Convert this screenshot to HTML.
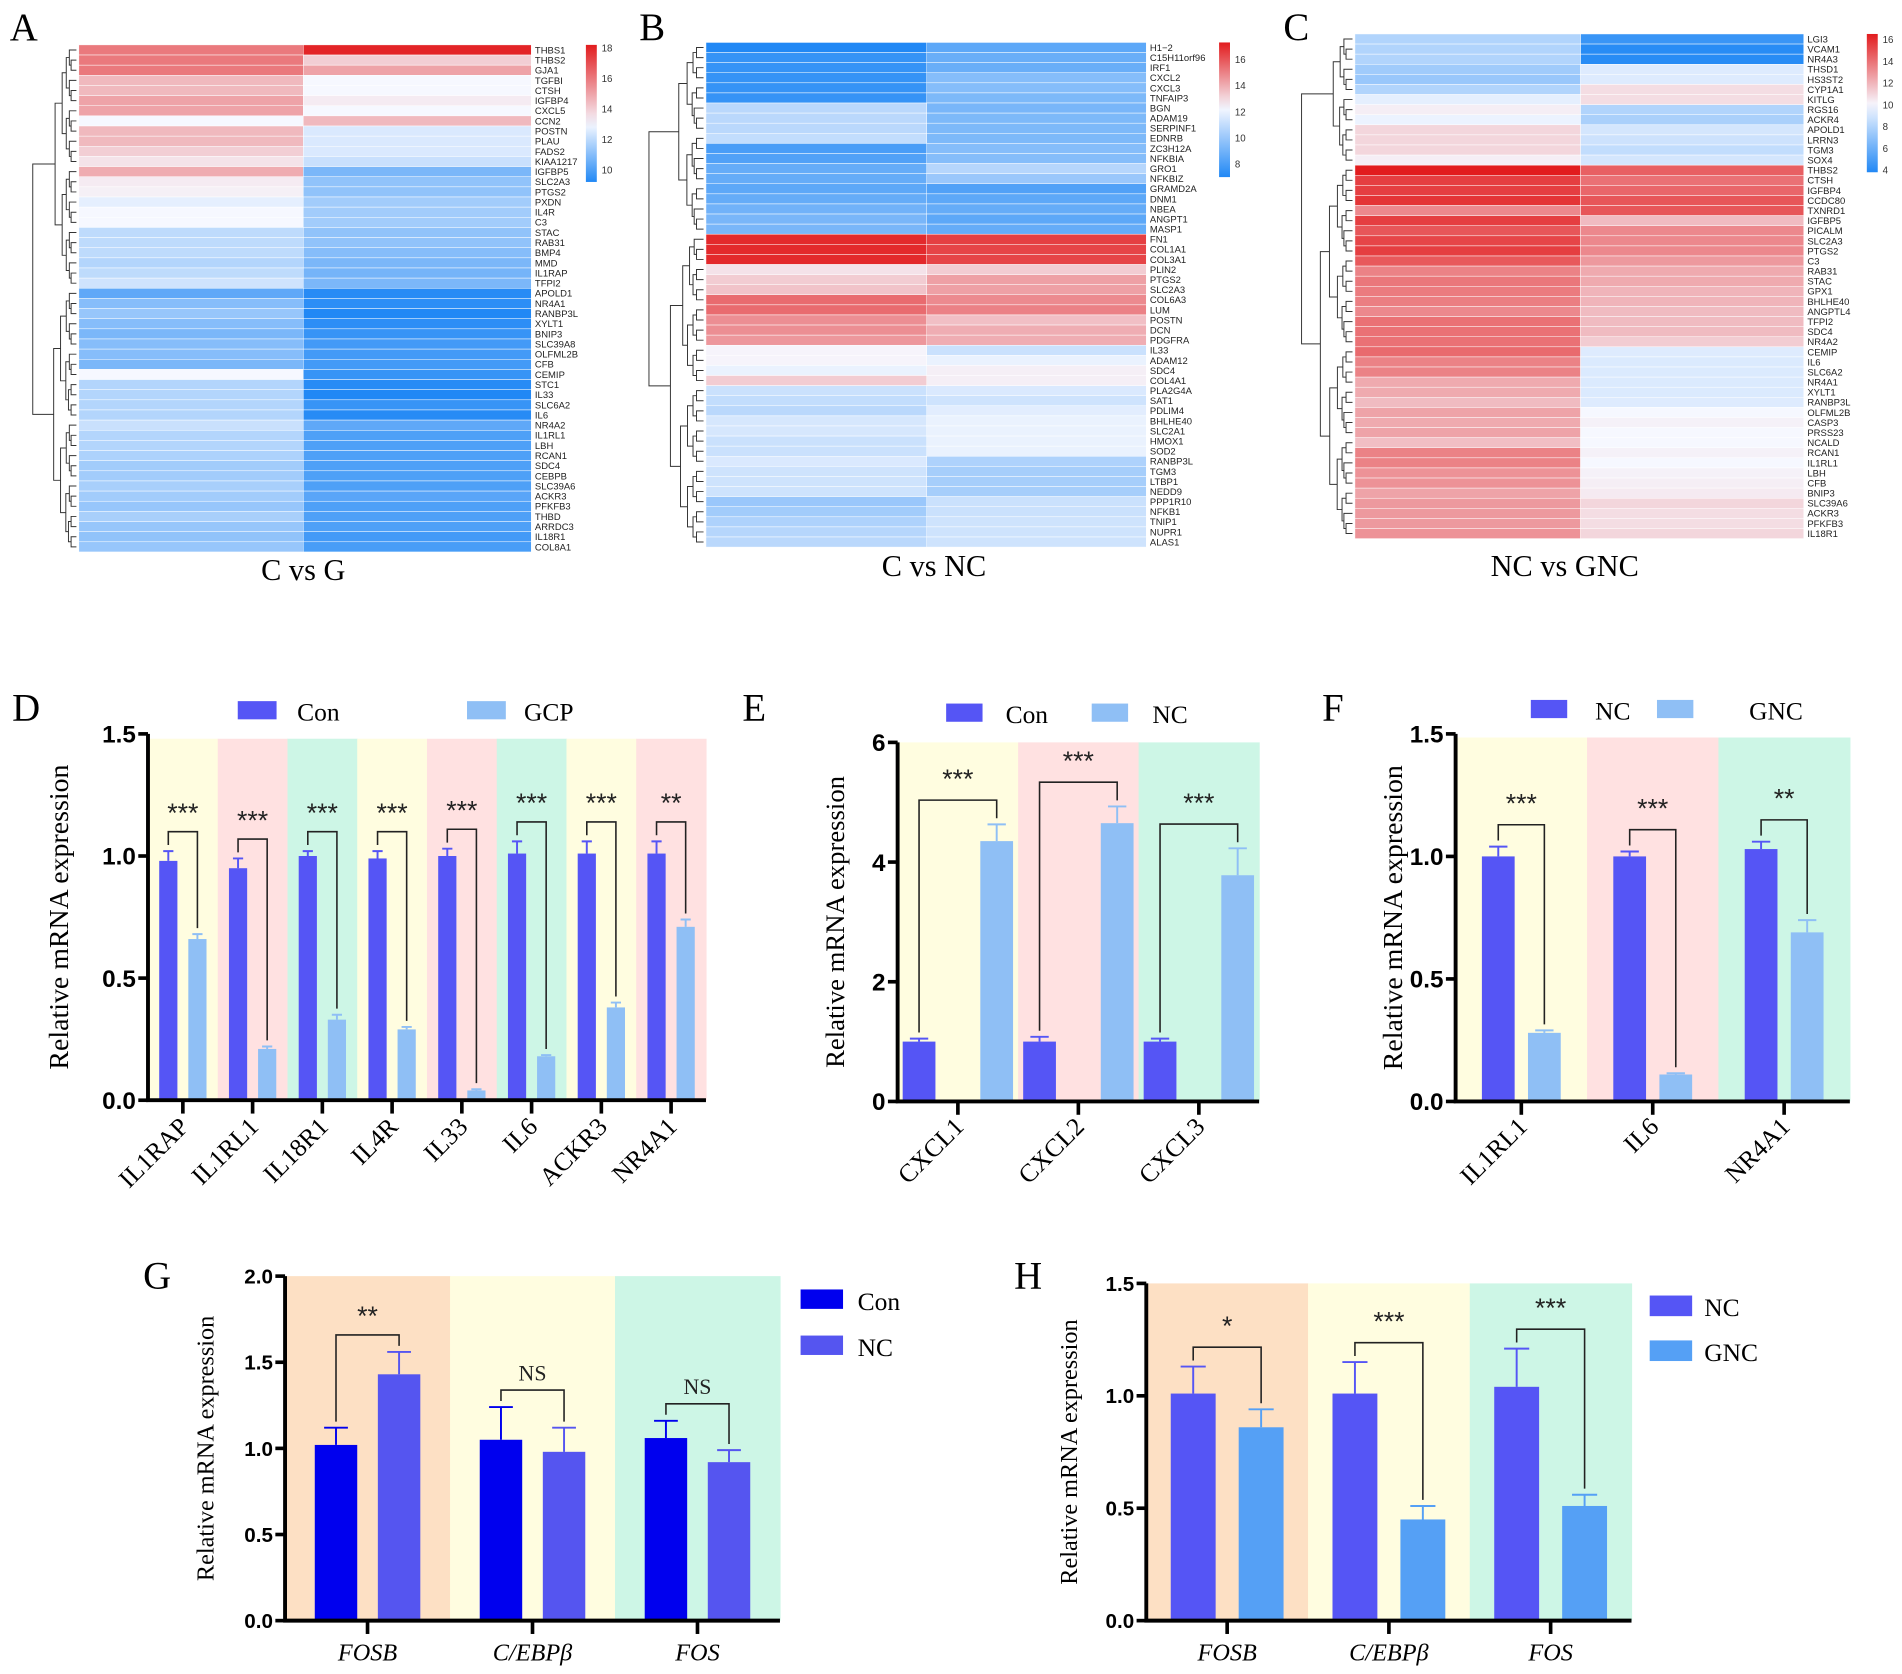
<!DOCTYPE html>
<html><head><meta charset="utf-8"><title>Figure</title>
<style>html,body{margin:0;padding:0;background:#fff}svg{display:block}</style></head>
<body>
<svg id="fig" xmlns="http://www.w3.org/2000/svg" width="1902" height="1674" viewBox="0 0 1568 1380" preserveAspectRatio="none"></svg>
<script>
// ---------- Heatmap data ----------
const aGenes=["THBS1","THBS2","GJA1","TGFBI","CTSH","IGFBP4","CXCL5","CCN2","POSTN","PLAU","FADS2","KIAA1217","IGFBP5","SLC2A3","PTGS2","PXDN","IL4R","C3","STAC","RAB31","BMP4","MMD","IL1RAP","TFPI2","APOLD1","NR4A1","RANBP3L","XYLT1","BNIP3","SLC39A8","OLFML2B","CFB","CEMIP","STC1","IL33","SLC6A2","IL6","NR4A2","IL1RL1","LBH","RCAN1","SDC4","CEBPB","SLC39A6","ACKR3","PFKFB3","THBD","ARRDC3","IL18R1","COL8A1"];
const aCol1=[16,16,16,14.5,14.5,15,15,13,14.5,14.5,14,13.5,14.8,13.3,13.2,12.7,13,13,12,12,12,11.8,12,12.3,10.3,11,11.3,11,10.8,11,11,10.8,13,11.8,11.8,11.8,11.8,12.2,11.8,11.8,11.7,11.5,11.5,11.6,11.5,11.3,11.6,11.3,11.2,11.3];
const aCol2=[18,14,15,13,13,13.3,13,14.5,12.5,12.5,12.5,12.2,10.8,11.2,11.2,11.5,11.5,11.5,11.2,11.2,11,10.8,10.7,10.8,9.3,9.4,9.2,9.4,9.6,9.8,9.8,9.8,9.6,9.3,9.2,9.6,9.3,10.3,10,10,10,10,10,10,10.2,10,10,10,9.8,9.9];
const aTicks=[18,16,14,12,10];
const bGenes=["H1\u22122","C15H11orf96","IRF1","CXCL2","CXCL3","TNFAIP3","BGN","ADAM19","SERPINF1","EDNRB","ZC3H12A","NFKBIA","GRO1","NFKBIZ","GRAMD2A","DNM1","NBEA","ANGPT1","MASP1","FN1","COL1A1","COL3A1","PLIN2","PTGS2","SLC2A3","COL6A3","LUM","POSTN","DCN","PDGFRA","IL33","ADAM12","SDC4","COL4A1","PLA2G4A","SAT1","PDLIM4","BHLHE40","SLC2A1","HMOX1","SOD2","RANBP3L","TGM3","LTBP1","NEDD9","PPP1R10","NFKB1","TNIP1","NUPR1","ALAS1"];
const bCol1=[7,7.5,7.5,7.5,7.5,7.5,10.8,10.8,10.8,11,8,8.2,8.7,8.7,8.5,8.7,9,9.2,9.2,17,17,17,12.8,13.3,13.5,15.5,15.5,14.7,14.7,14.5,12.4,12.4,12,13.3,11.2,11,10.8,11.5,11.5,11.2,11.2,11.6,11.3,11.3,11.3,10,10.2,10.5,10.7,10.8];
const bCol2=[8.5,8.8,8.8,9.5,9.5,9.3,9.2,9.3,9.3,9.3,9.5,9.5,10.7,10,8.2,8.5,8.7,8.5,8.7,16.5,16.4,16.4,13.3,14.3,14.3,14.8,15,13.6,14,14,11.2,12,12.5,12.5,11.6,11.3,11.8,12,12,12,12,10.5,10.3,10.3,10.3,11.2,11.2,11.3,11.3,11.3];
const bTicks=[16,14,12,10,8];
const cGenes=["LGI3","VCAM1","NR4A3","THSD1","HS3ST2","CYP1A1","KITLG","RGS16","ACKR4","APOLD1","LRRN3","TGM3","SOX4","THBS2","CTSH","IGFBP4","CCDC80","TXNRD1","IGFBP5","PICALM","SLC2A3","PTGS2","C3","RAB31","STAC","GPX1","BHLHE40","ANGPTL4","TFPI2","SDC4","NR4A2","CEMIP","IL6","SLC6A2","NR4A1","XYLT1","RANBP3L","OLFML2B","CASP3","PRSS23","NCALD","RCAN1","IL1RL1","LBH","CFB","BNIP3","SLC39A6","ACKR3","PFKFB3","IL18R1"];
const cCol1=[8,8,8,7.5,7.3,8,9.5,10.3,9.7,11,11,11,10.3,16.5,15.5,15.5,15.8,13.3,15.5,14.8,15.3,15.5,14.7,13.5,13.8,13.7,13.6,13.3,14,14,14,14.2,13.5,13.5,12.3,12.3,11.8,12.5,12.3,12.5,11.7,13.5,13.5,13,13,12.5,12.8,12.8,12.8,13];
const cCol2=[4.5,4,4,9.3,9.3,10.8,10.8,8,7.8,9,8.8,8.5,9,14.5,14,14.3,14.8,14.8,11.8,13.3,13.3,13.3,12.8,12.3,12.3,12,12,11.8,11.8,11.8,11.3,9.3,9.2,9.2,9.2,9.2,9.3,10,10.2,10,10,10.2,10,10.2,10.3,10.4,11,10.8,10.8,11];
const cTicks=[16,14,12,10,8,6,4];

// ---------- Bar chart data ----------
const dCategories=["IL1RAP","IL1RL1","IL18R1","IL4R","IL33","IL6","ACKR3","NR4A1"];
const dCon=[0.98,0.95,1.0,0.99,1.0,1.01,1.01,1.01];
const dConErr=[0.04,0.04,0.02,0.03,0.03,0.05,0.05,0.05];
const dGcp=[0.66,0.21,0.33,0.29,0.04,0.18,0.38,0.71];
const dGcpErr=[0.02,0.01,0.02,0.01,0.005,0.005,0.02,0.03];
const dSig=["***","***","***","***","***","***","***","**"];
const dTicks=["0.0","0.5","1.0","1.5"];
const eCategories=["CXCL1","CXCL2","CXCL3"];
const eCon=[1.0,1.0,1.0];
const eConErr=[0.05,0.08,0.05];
const eNc=[4.35,4.65,3.78];
const eNcErr=[0.28,0.28,0.45];
const eSig=["***","***","***"];
const eTicks=["0","2","4","6"];
const fCategories=["IL1RL1","IL6","NR4A1"];
const fNc=[1.0,1.0,1.03];
const fNcErr=[0.04,0.02,0.03];
const fGnc=[0.28,0.11,0.69];
const fGncErr=[0.01,0.005,0.05];
const fSig=["***","***","**"];
const fTicks=["0.0","0.5","1.0","1.5"];
const gCategories=["FOSB","C/EBP\u03b2","FOS"];
const gCon=[1.02,1.05,1.06];
const gConErr=[0.1,0.19,0.1];
const gNc=[1.43,0.98,0.92];
const gNcErr=[0.13,0.14,0.07];
const gSig=["**","NS","NS"];
const gTicks=["0.0","0.5","1.0","1.5","2.0"];
const hCategories=["FOSB","C/EBP\u03b2","FOS"];
const hNc=[1.01,1.01,1.04];
const hNcErr=[0.12,0.14,0.17];
const hGnc=[0.86,0.45,0.51];
const hGncErr=[0.08,0.06,0.05];
const hSig=["*","***","***"];
const hTicks=["0.0","0.5","1.0","1.5"];

const NS="http://www.w3.org/2000/svg";
const svg=document.getElementById('fig');
function mk(tag,attrs,parent,text){const e=document.createElementNS(NS,tag);for(const k in attrs)e.setAttribute(k,attrs[k]);if(text!==undefined)e.textContent=text;(parent||svg).appendChild(e);return e;}
const SERIF='"Liberation Serif", serif', SANS='"Liberation Sans", sans-serif';

function cmap(v,min,mid,max){
  const B=[33,136,245],W=[246,248,255],R=[226,28,30];let a,b,t;
  if(v<mid){t=Math.max(0,Math.min(1,(v-min)/(mid-min)));a=B;b=W;}else{t=Math.max(0,Math.min(1,(v-mid)/(max-mid)));a=W;b=R;}
  const c=a.map((x,i)=>Math.round(x+(b[i]-x)*t));return `rgb(${c[0]},${c[1]},${c[2]})`;
}

[["A",8,33],["B",527,33],["C",1058,33],["D",10,594],["E",612,594],["F",1090,594],["G",118,1062],["H",836,1062]].forEach(p=>{
  const t=mk('text',{x:p[1],y:p[2],'font-family':SERIF,'font-size':32},svg,p[0]);
  
  
});

function dendro(g,x0,x1,y0,rh,a,b,n){
  if(b-a===1)return [x1, y0+(a+0.5)*rh];
  const m=Math.floor((a+b)/2);
  const L=dendro(g,x0,x1,y0,rh,a,m,n),R=dendro(g,x0,x1,y0,rh,m,b,n);
  const x=x1-(x1-x0)*Math.pow((b-a)/n,0.55)*(0.9+0.1*((a*7+b*3)%5)/5);
  mk('path',{d:`M${L[0]},${L[1]}H${x}V${R[1]}H${R[0]}`,fill:'none',stroke:'#333','stroke-width':0.8},g);
  return [x,(L[1]+R[1])/2];
}

function heatmap(key,genes,c1,c2,vmin,vmid,vmax,ticks,X0,XS,X1,Y0,Y1,cbX,cbY0,cbY1,title,titleX,titleY,dx0,split){
  const g=mk('g',{});
  
  
  const n=genes.length,rh=(Y1-Y0)/n;
  const dg=mk('g',{},g);
  
  
  const L=dendro(dg,dx0+8,X0-2,Y0,rh,0,split,n),R=dendro(dg,dx0+8,X0-2,Y0,rh,split,n,n);
  mk('path',{d:`M${L[0]},${L[1]}H${dx0}V${R[1]}H${R[0]}`,fill:'none',stroke:'#333','stroke-width':0.8},dg);
  genes.forEach((gn,i)=>{
    const y=Y0+i*rh;
    const r1=mk('rect',{x:X0,y:y,width:XS-X0,height:rh,fill:cmap(c1[i],vmin,vmid,vmax),stroke:'#fff','stroke-width':0.4},g);
    
    
    const r2=mk('rect',{x:XS,y:y,width:X1-XS,height:rh,fill:cmap(c2[i],vmin,vmid,vmax),stroke:'#fff','stroke-width':0.4},g);
    
    
    const t=mk('text',{x:X1+3,y:y+rh/2+2.8,'font-family':SANS,'font-size':7.8,fill:'#222'},g,gn);
    
    
  });
  const gid='grad'+key;
  const defs=mk('defs',{},g);
  const lg=mk('linearGradient',{id:gid,x1:0,y1:1,x2:0,y2:0},defs);
  for(let k=0;k<=10;k++){const v=vmin+(vmax-vmin)*k/10;mk('stop',{offset:k/10,'stop-color':cmap(v,vmin,vmid,vmax)},lg);}
  const cb=mk('rect',{x:cbX,y:cbY0,width:9,height:cbY1-cbY0,fill:`url(#${gid})`},g);
  
  
  ticks.forEach(v=>{
    const y=cbY1-(v-vmin)/(vmax-vmin)*(cbY1-cbY0);
    const t=mk('text',{x:cbX+13,y:y+3,'font-family':SANS,'font-size':8,fill:'#333'},g,String(v));
    
    
  });
  const tt=mk('text',{x:titleX,y:titleY,'text-anchor':'middle','font-family':SERIF,'font-size':25},g,title);
  
  
}
heatmap('a',aGenes,aCol1,aCol2,9.2,13,18.2,aTicks,65,250,438,37,455,483,37,150,'C vs G',250,478,27,24);
heatmap('b',bGenes,bCol1,bCol2,7,12.3,17.3,bTicks,582,764,945,35,451,1005,35,146,'C vs NC',770,475,535,19);
heatmap('c',cGenes,cCol1,cCol2,3.8,10,16.5,cTicks,1117,1303,1487,28,444,1539,28,142,'NC vs GNC',1290,475,1073,13);

function barChart(key,cats,v1,e1,v2,e2,sig,ticks,ymax,cfg){
  const g=mk('g',{});
  
  
  const {x0,x1,y0,y1,bandTop,bands,c1,c2,bw,off,brk,starOff,ylab,ylabX,labRot,labY,tickFS,labFS,italic}=cfg;
  const ys=v=>y0-(v/ymax)*(y0-y1);
  const n=cats.length,cw=(x1-x0)/n;
  cats.forEach((c,i)=>{
    const r=mk('rect',{x:x0+i*cw,y:bandTop,width:cw+0.5,height:y0-bandTop,fill:bands[i%bands.length]},g);
    
    
  });
  cats.forEach((c,i)=>{
    const cx=x0+(i+0.5)*cw;
    [[v1,e1,c1,-off,'a'],[v2,e2,c2,off,'b']].forEach(s=>{
      const v=s[0][i],e=s[1][i],bx=cx+s[3];
      const col=s[2];
      const eb=mk('path',{d:`M${bx},${ys(v)}V${ys(v+e)}M${bx-bw*0.28},${ys(v+e)}H${bx+bw*0.28}`,stroke:col,'stroke-width':1.6,fill:'none'},g);
      
      
      const r=mk('rect',{x:bx-bw/2,y:ys(v),width:bw,height:ys(0)-ys(v),fill:col},g);
      
      
    });
    const ta=ys(v1[i]+e1[i]),tb=ys(v2[i]+e2[i]);
    const by=Math.min(ta,tb)-brk;
    const bk=mk('path',{d:`M${cx-off},${ta-5}V${by}H${cx+off}V${tb-5}`,stroke:'#222','stroke-width':1.3,fill:'none'},g);
    
    
    const st=mk('text',{x:cx,y:by-starOff,'text-anchor':'middle','font-family':sig[i]==='NS'?SERIF:SANS,'font-size':sig[i]==='NS'?18:22,fill:'#222'},g,sig[i]);
    
    
    const tk=mk('line',{x1:cx,y1:y0,x2:cx,y2:y0+11,stroke:'#000','stroke-width':3},g);
    
    
    let lab;
    if(labRot){lab=mk('text',{x:cx+6,y:labY,'text-anchor':'end','font-family':SERIF,'font-size':labFS,transform:`rotate(-45 ${cx+6} ${labY})`},g,c);}
    else{lab=mk('text',{x:cx,y:labY,'text-anchor':'middle','font-family':SERIF,'font-size':labFS,'font-style':italic?'italic':'normal'},g,c);}
    
    
  });
  const ax=mk('path',{d:`M${x0},${y1}V${y0}H${x1}`,stroke:'#000','stroke-width':3.2,fill:'none'},g);
  
  
  ticks.forEach((t,k)=>{
    const v=ymax*k/(ticks.length-1),y=ys(v);
    const tl=mk('line',{x1:x0-8,y1:y,x2:x0,y2:y,stroke:'#000','stroke-width':3},g);
    
    
    const tx=mk('text',{x:x0-10,y:y+tickFS*0.36,'text-anchor':'end','font-family':SANS,'font-weight':'bold','font-size':tickFS},g,t);
    
    
  });
  const yc=(y0+y1)/2;
  const yl=mk('text',{x:ylabX,y:yc,'text-anchor':'middle','font-family':SERIF,'font-size':ylab,transform:`rotate(-90 ${ylabX} ${yc})`},g,'Relative mRNA expression');
  
  
}
function legend(key,items){
  items.forEach(it=>{
    const r=mk('rect',{x:it[0],y:it[1],width:it[2],height:it[3],fill:it[4]});
    
    
    const t=mk('text',{x:it[5],y:it[6],'font-family':SERIF,'font-size':21},svg,it[7]);
    
    
  });
}
const Y='#fffde0',P='#ffe1e1',G='#cdf6e6',O='#fde0c4';
const C1='#5555f5',C2='#8fbff5';
barChart('d',dCategories,dCon,dConErr,dGcp,dGcpErr,dSig,dTicks,1.5,{x0:122,x1:582,y0:907,y1:605,bandTop:609,bands:[Y,P,G],c1:C1,c2:C2,bw:15,off:12,brk:16,starOff:8,ylab:23,ylabX:56,labRot:true,labY:930,tickFS:20,labFS:21});
legend('d',[[196,578,32,15,C1,245,594,'Con'],[385,578,32,15,C2,432,594,'GCP']]);
barChart('e',eCategories,eCon,eConErr,eNc,eNcErr,eSig,eTicks,6,{x0:740,x1:1038,y0:908,y1:612,bandTop:612,bands:[Y,P,G],c1:C1,c2:C2,bw:27,off:32,brk:20,starOff:10,ylab:22,ylabX:696,labRot:true,labY:930,tickFS:20,labFS:21});
legend('e',[[780,580,30,15,C1,829,596,'Con'],[900,580,30,15,C2,950,596,'NC']]);
barChart('f',fCategories,fNc,fNcErr,fGnc,fGncErr,fSig,fTicks,1.5,{x0:1200,x1:1525,y0:908,y1:605,bandTop:608,bands:[Y,P,G],c1:C1,c2:C2,bw:27,off:19,brk:18,starOff:10,ylab:23,ylabX:1156,labRot:true,labY:930,tickFS:20,labFS:21});
legend('f',[[1262,577,30,15,C1,1315,593,'NC'],[1366,577,30,15,C2,1442,593,'GNC']]);
barChart('g',gCategories,gCon,gConErr,gNc,gNcErr,gSig,gTicks,2.0,{x0:235,x1:643,y0:1336,y1:1052,bandTop:1052,bands:[O,Y,G],c1:'#0000ee',c2:'#5555f0',bw:35,off:26,brk:14,starOff:8,ylab:20,ylabX:176,labRot:false,labY:1369,tickFS:17,labFS:20,italic:true});
legend('g',[[660,1063,35,16,'#0000ee',707,1080,'Con'],[660,1101,35,16,'#5555f0',707,1118,'NC']]);
barChart('h',hCategories,hNc,hNcErr,hGnc,hGncErr,hSig,hTicks,1.5,{x0:945,x1:1345,y0:1336,y1:1058,bandTop:1058,bands:[O,Y,G],c1:'#5555f5',c2:'#55a0f5',bw:37,off:28,brk:16,starOff:10,ylab:20,ylabX:888,labRot:false,labY:1369,tickFS:17,labFS:20,italic:true});
legend('h',[[1360,1068,35,17,'#5555f5',1405,1085,'NC'],[1360,1105,35,17,'#55a0f5',1405,1122,'GNC']]);
</script>
</body></html>
